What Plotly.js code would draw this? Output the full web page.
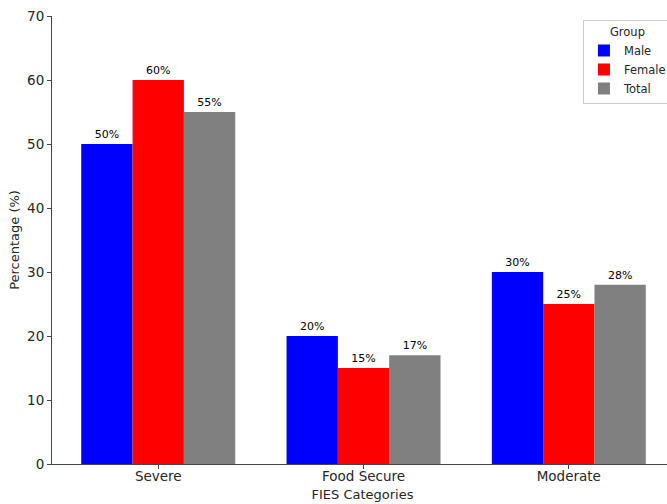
<!DOCTYPE html>
<html>
<head>
<meta charset="utf-8">
<script src="https://cdn.plot.ly/plotly-3.0.1.min.js"></script>
<style>
  html, body { margin: 0; padding: 0; overflow: hidden; background: #fff; }
  #chart { width: 680px; height: 504px; }
</style>
</head>
<body>
<div id="chart"></div>
<script>
// FIES category shares by group
const categories = ["Severe", "Food Secure", "Moderate"];
const male = [50, 20, 30];
const female = [60, 15, 25];
const total = [55, 17, 28];
const yTicks = [0, 10, 20, 30, 40, 50, 60, 70];

const textFont = { family: "DejaVu Sans", size: 11, color: "#000" };

function barTrace(name, values, color) {
  return {
    type: "bar",
    name: name,
    x: categories,
    y: values,
    marker: { color: color, line: { width: 0 } },
    text: values.map(v => v + "%"),
    textposition: "outside",
    textfont: textFont,
    cliponaxis: false,
    hoverinfo: "skip"
  };
}

const data = [
  barTrace("Male", male, "#0000ff"),
  barTrace("Female", female, "#ff0000"),
  barTrace("Total", total, "#808080")
];

const layout = {
  width: 680,
  height: 504,
  margin: { l: 52, r: 7, t: 16, b: 40 },
  paper_bgcolor: "#fff",
  plot_bgcolor: "#fff",
  font: { family: "DejaVu Sans", size: 13, color: "#262626" },
  barmode: "group",
  bargap: 0.25,
  bargroupgap: 0,
  showlegend: true,
  xaxis: {
    type: "category",
    range: [-0.5175, 2.5075],
    showgrid: false,
    zeroline: false,
    showline: true,
    linecolor: "#444",
    linewidth: 1,
    ticks: "outside",
    ticklen: 4,
    tickcolor: "#444",
    ticklabelstandoff: -4,
    tickfont: { size: 13.5, color: "#262626" },
    title: { text: "FIES Categories", font: { size: 13, color: "#262626" }, standoff: 6 }
  },
  yaxis: {
    range: [0, 70],
    tickvals: yTicks,
    showgrid: false,
    zeroline: false,
    showline: true,
    linecolor: "#444",
    linewidth: 1,
    ticks: "outside",
    ticklen: 4,
    tickcolor: "#444",
    tickfont: { size: 13.5, color: "#262626" },
    title: { text: "Percentage (%)", font: { size: 13, color: "#262626" }, standoff: 4 }
  },
  legend: {
    x: 0.855,
    y: 0.991,
    xanchor: "left",
    yanchor: "top",
    bgcolor: "rgba(255,255,255,0.8)",
    bordercolor: "#cccccc",
    borderwidth: 1,
    font: { family: "DejaVu Sans", size: 11.5, color: "#262626" },
    title: { text: "Group", side: "top center", font: { size: 11.5, color: "#262626" } },
    itemwidth: 30,
    entrywidth: 92,
    tracegroupgap: 0
  }
};

Plotly.newPlot("chart", data, layout, { staticPlot: true, displayModeBar: false });
</script>
</body>
</html>
